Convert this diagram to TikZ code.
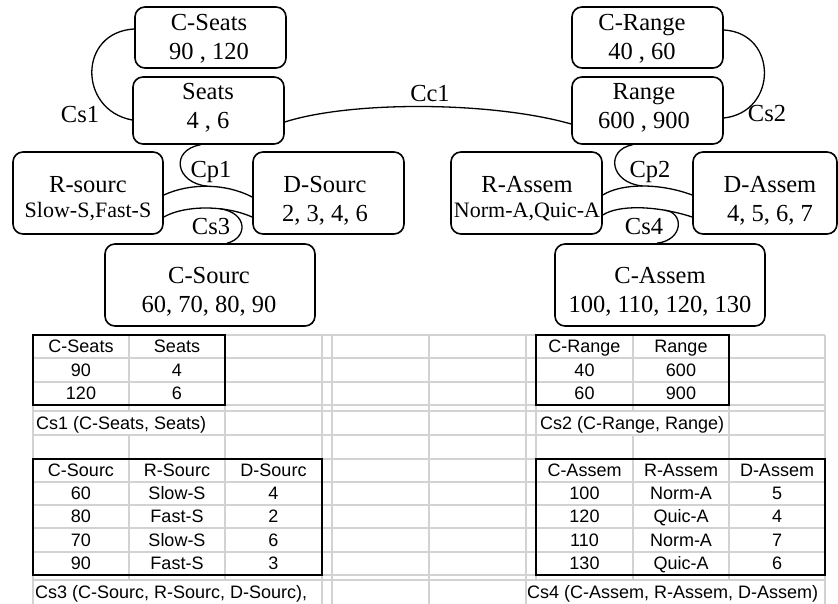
\documentclass[tikz,border=0pt]{standalone}
\usepackage{fontspec}
\setmainfont{Liberation Serif}
\newfontfamily\tabfont{Liberation Sans}
\usetikzlibrary{calc}
\begin{document}
\begin{tikzpicture}[x=1pt,y=-1pt,
  box/.style={draw, line width=1.6pt, rounded corners=10pt, inner sep=0pt},
  lbl/.style={font=\fontsize{24.5}{29}\selectfont, anchor=base, inner sep=0pt},
  sml/.style={font=\fontsize{22}{25}\selectfont, anchor=base, inner sep=0pt},
  link/.style={line width=1.3pt},
  gridln/.style={draw=gray!35, line width=1.5pt},
  tbl/.style={draw=black, line width=1.6pt},
  cell/.style={font=\tabfont\fontsize{18}{21}\selectfont, anchor=base, inner sep=0pt},
  cellw/.style={font=\tabfont\fontsize{18}{21}\selectfont, anchor=base west, inner sep=0pt}]
\useasboundingbox (0,0) rectangle (838,604);

% ---------- boxes ----------
\node[box, minimum width=151pt, minimum height=61pt] (cseats) at (210.5,37.5) {};
\node[box, minimum width=151pt, minimum height=67pt] (seats) at (208.5,110.5) {};
\node[box, minimum width=150pt, minimum height=82pt] (rsourc) at (88,193) {};
\node[box, minimum width=151pt, minimum height=82pt] (dsourc) at (328.5,193) {};
\node[box, minimum width=210pt, minimum height=82pt] (csourc) at (210,285) {};
\node[box, minimum width=151pt, minimum height=61pt] (crange) at (647.5,37.5) {};
\node[box, minimum width=151pt, minimum height=67pt] (range) at (647.5,110.5) {};
\node[box, minimum width=151pt, minimum height=82pt] (rassem) at (526.5,193) {};
\node[box, minimum width=144pt, minimum height=82pt] (dassem) at (765,193) {};
\node[box, minimum width=210pt, minimum height=82pt] (cassem) at (660,285) {};

% ---------- box texts ----------
\node[lbl] (cseatsA) at (209,31) {C-Seats};
\node[lbl] (cseatsB) at (209,60) {90 , 120};
\node[lbl] (seatsA) at (208,100) {Seats};
\node[lbl] (seatsB) at (208,129) {4 , 6};
\node[lbl] (rsourcA) at (88,193) {R-sourc};
\node[sml] (rsourcB) at (88,218) {Slow-S,Fast-S};
\node[lbl] (dsourcA) at (325,193) {D-Sourc};
\node[lbl] (dsourcB) at (325,222) {2, 3, 4, 6};
\node[lbl] (csourcA) at (209,283) {C-Sourc};
\node[lbl] (csourcB) at (209,312) {60, 70, 80, 90};
\node[lbl] (crangeA) at (642,31) {C-Range};
\node[lbl] (crangeB) at (642,60) {40 , 60};
\node[lbl] (rangeA) at (644,100) {Range};
\node[lbl] (rangeB) at (644,129) {600 , 900};
\node[lbl] (rassemA) at (527,193) {R-Assem};
\node[sml] (rassemB) at (527,218) {Norm-A,Quic-A};
\node[lbl] (dassemA) at (770,193) {D-Assem};
\node[lbl] (dassemB) at (770,222) {4, 5, 6, 7};
\node[lbl] (cassemA) at (660,283) {C-Assem};
\node[lbl] (cassemB) at (660,312) {100, 110, 120, 130};

% ---------- connectors ----------
\draw[link] ($(cseats.west)+(0,-8.5)$) .. controls (78,32) and (78,110) .. ($(seats.west)+(0,9.5)$);
\draw[link] ($(seats.east)+(0,11.5)$) .. controls (350,101) and (490,101) .. ($(range.west)+(0,13.5)$);
\draw[link] ($(crange.east)+(0,-7.5)$) .. controls (778,33) and (778,112) .. ($(range.east)+(0,7.5)$);

\draw[link] ($(rsourc.east)+(0,2)$) .. controls (190,183) and (225,183) .. ($(dsourc.west)+(0,4)$) coordinate[pos=0.5] (u1);
\draw[link] ($(seats.south)+(-8,0)$) .. controls (170,150) and (175,183) .. (u1);
\draw[link] ($(rsourc.east)+(0,24)$) .. controls (185,205) and (225,205) .. ($(dsourc.west)+(0,24)$) coordinate[pos=0.65] (l1);
\draw[link] ($(csourc.north)+(17,0)$) .. controls (248,238) and (248,213) .. (l1);

\draw[link] ($(rassem.east)+(0,2)$) .. controls (622,183) and (660,183) .. ($(dassem.west)+(0,2)$) coordinate[pos=0.5] (u2);
\draw[link] ($(range.south)+(-15,0)$) .. controls (605,150) and (610,183) .. (u2);
\draw[link] ($(rassem.east)+(0,22)$) .. controls (618,205) and (655,205) .. ($(dassem.west)+(0,24)$) coordinate[pos=0.75] (l2);
\draw[link] ($(cassem.north)+(-3,0)$) .. controls (684,240) and (684,212) .. (l2);

% ---------- connector labels ----------
\node[lbl] (cs1) at (80,123) {Cs1};
\node[lbl] (cc1) at (430,102) {Cc1};
\node[lbl] (cs2) at (767,122) {Cs2};
\node[lbl] (cp1) at (211,178) {Cp1};
\node[lbl] (cs3) at (211,235) {Cs3};
\node[lbl] (cp2) at (650,178) {Cp2};
\node[lbl] (cs4) at (644,235) {Cs4};

% ---------- spreadsheet grid ----------
\foreach \yy in {335,358,382,405,411,435,459,482,505,528,552,575,580}
  \draw[gridln] (33,\yy) -- (825,\yy);
\foreach \xx in {33,322,332,429,526,825}
  \draw[gridln] (\xx,335) -- (\xx,604);
\foreach \xx in {225,536,729}
  \draw[gridln] (\xx,335) -- (\xx,580);
\foreach \xx in {129,633}{
  \draw[gridln] (\xx,335) -- (\xx,411);
  \draw[gridln] (\xx,435) -- (\xx,580);
}

% ---------- black table frames ----------
\draw[tbl] (33,335) rectangle (225,405);
\draw[tbl] (33,459) rectangle (322,575);
\draw[tbl] (536,335) rectangle (729,405);
\draw[tbl] (536,459) rectangle (825,575);

% ---------- table texts ----------
\foreach \px/\py/\tx [count=\i] in {81/352.5/C-Seats, 177/352.5/Seats,
    81/376/90, 177/376/4, 81/399.5/120, 177/399.5/6}
  \node[cell] (ta\i) at (\px,\py) {\tx};
\node[cellw] (csA) at (36,429) {Cs1 (C-Seats, Seats)};

\foreach \px/\py/\tx [count=\i] in {584.5/352.5/C-Range, 681/352.5/Range,
    584.5/376/40, 681/376/600, 584.5/399.5/60, 681/399.5/900}
  \node[cell] (tb\i) at (\px,\py) {\tx};
\node[cellw] (csB) at (540,429) {Cs2 (C-Range, Range)};

\foreach \px/\py/\tx [count=\i] in {81/476.5/C-Sourc, 177/476.5/R-Sourc, 273.5/476.5/D-Sourc,
    81/499.5/60, 177/499.5/Slow-S, 273.5/499.5/4,
    81/522.5/80, 177/522.5/Fast-S, 273.5/522.5/2,
    81/546/70, 177/546/Slow-S, 273.5/546/6,
    81/569.5/90, 177/569.5/Fast-S, 273.5/569.5/3}
  \node[cell] (tc\i) at (\px,\py) {\tx};
\node[cellw] (csC) at (35,598.5) {Cs3 (C-Sourc, R-Sourc, D-Sourc),};

\foreach \px/\py/\tx [count=\i] in {584.5/476.5/C-Assem, 681/476.5/R-Assem, 777/476.5/D-Assem,
    584.5/499.5/100, 681/499.5/Norm-A, 777/499.5/5,
    584.5/522.5/120, 681/522.5/Quic-A, 777/522.5/4,
    584.5/546/110, 681/546/Norm-A, 777/546/7,
    584.5/569.5/130, 681/569.5/Quic-A, 777/569.5/6}
  \node[cell] (td\i) at (\px,\py) {\tx};
\node[cellw] (csD) at (527,598.5) {Cs4 (C-Assem, R-Assem, D-Assem)};
\end{tikzpicture}
\end{document}
